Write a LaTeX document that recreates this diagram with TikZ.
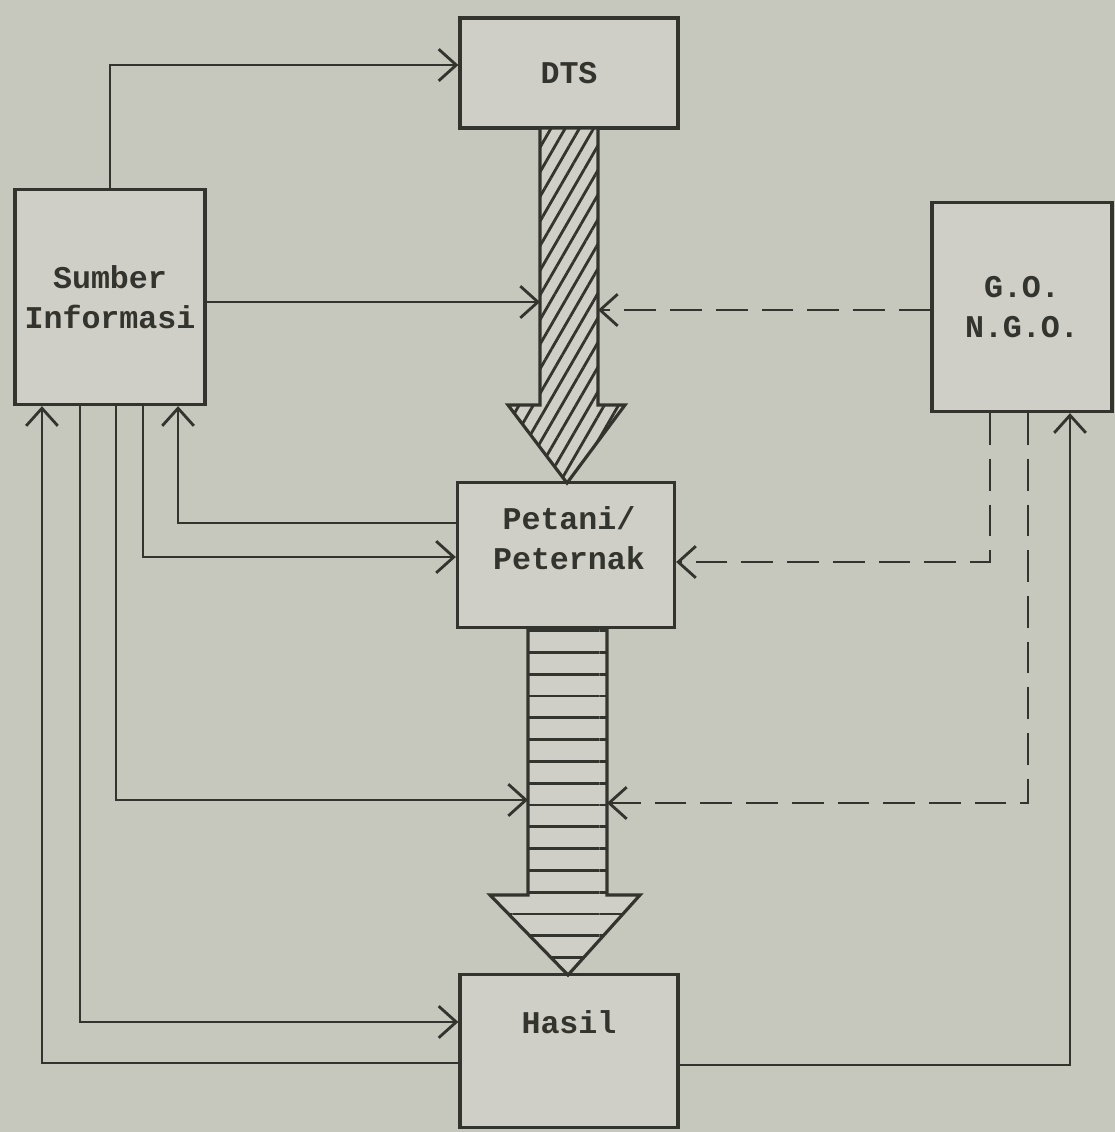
\documentclass[tikz,border=0pt]{standalone}
\usepackage{fontspec}
\setmonofont{Liberation Mono}
\usetikzlibrary{arrows.meta,patterns.meta}
\definecolor{paper}{RGB}{198,199,189}
\definecolor{ink}{RGB}{52,52,46}
\begin{document}
\begin{tikzpicture}[x=0.01cm,y=-0.01cm]
            \tikzset{
                box/.style={draw=ink, line width=0.9pt, fill=paper!85!white, inner sep=0pt, text=ink, align=center, font=\ttfamily\bfseries\fontsize{9}{11.5}\selectfont},
                txt/.style={text=ink, align=center, font=\ttfamily\bfseries\fontsize{9}{11.5}\selectfont},
                link/.style={draw=ink, line width=0.8pt, -{Straight Barb[length=5pt,width=9pt]}},
                dlink/.style={link, dash pattern=on 9pt off 4pt},
                bigarrow/.style={draw=ink, line width=0.9pt, fill=paper!85!white}
            }
            \useasboundingbox (0,0) rectangle (1115,1132);
            \fill[paper] (0,0) rectangle (1115,1132);

            \draw node[box, minimum width=2.18cm, minimum height=1.10cm] (dts) at (569,73) {DTS};
            \draw node[box, minimum width=1.90cm, minimum height=2.15cm] (sumber) at (110,297) {Sumber\\Informasi};
            \draw node[box, minimum width=1.80cm, minimum height=2.09cm] (go) at (1022,307) {G.O.\\N.G.O.};
            \draw node[box, minimum width=2.17cm, minimum height=1.45cm] (petani) at (566,555) {};
            \draw node[txt] (petanitext) at (569,538) {Petani/\\Peternak};
            \draw node[box, minimum width=2.18cm, minimum height=1.53cm] (hasil) at (569,1051) {};
            \draw node[txt] (hasiltext) at (569,1022) {Hasil};

            % big arrows
            \draw[bigarrow, postaction={pattern={Lines[angle=60,distance=3.5pt,line width=0.8pt]}, pattern color=ink}]
                (540,128) -- (598,128) -- (598,405) -- (625,405) -- (567,483) -- (508,405) -- (540,405) -- cycle;
            \draw[bigarrow, postaction={pattern={Lines[angle=0,distance=6.2pt,line width=0.8pt]}, pattern color=ink}]
                (528,628) -- (607,628) -- (607,895) -- (640,895) -- (568,975) -- (490,895) -- (528,895) -- cycle;

            \coordinate (hatchL) at (540,302);
            \coordinate (hatchR) at (598,310);
            \coordinate (stripeL) at (528,800);
            \coordinate (stripeR) at (607,803);

            \draw[link] (sumber.north) |- ([yshift=0.8mm]dts.west);
            \draw[link] (sumber.east |- hatchL) -- (hatchL);
            \draw[dlink] (go.west |- hatchR) -- (hatchR);
            \draw[link] ([yshift=-1.2mm]hasil.west) -| ([xshift=-6.8mm]sumber.south);
            \draw[link] ([xshift=-3mm]sumber.south) |- ([yshift=2.9mm]hasil.west);
            \draw[link] ([xshift=0.6mm]sumber.south) |- (stripeL);
            \draw[link] ([xshift=3.3mm]sumber.south) |- ([yshift=-0.2mm]petani.west);
            \draw[link] ([yshift=3.2mm]petani.west) -| ([xshift=6.8mm]sumber.south);
            \draw[dlink] ([xshift=-3.2mm]go.south) |- ([yshift=-0.7mm]petani.east);
            \draw[dlink] ([xshift=0.6mm]go.south) |- (stripeR);
            \draw[link] ([yshift=-1.4mm]hasil.east) -| ([xshift=4.8mm]go.south);
        \end{tikzpicture}
\end{document}
